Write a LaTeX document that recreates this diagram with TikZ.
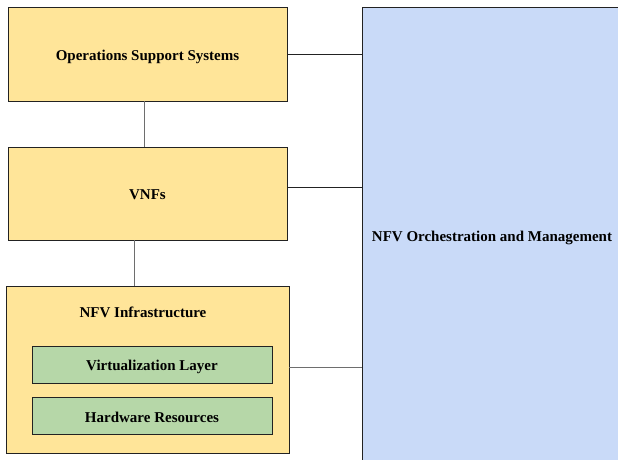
\documentclass[tikz,border=0pt]{standalone}
\usepackage{fontspec}
\setmainfont{Liberation Serif}
\usetikzlibrary{positioning}

\definecolor{boxyellow}{HTML}{FFE599}
\definecolor{boxgreen}{HTML}{B6D7A8}
\definecolor{boxblue}{HTML}{C9DAF8}
\definecolor{edgedark}{HTML}{222222}
\definecolor{linegray}{HTML}{6E6E6E}

\tikzset{
  labelfont/.style={font=\fontsize{15}{18}\selectfont\bfseries, text height=14pt, text depth=2pt},
  layerbox/.style={draw=edgedark, line width=0.9pt, fill=boxyellow, inner sep=0pt, labelfont},
  subbox/.style={draw=edgedark, line width=0.9pt, fill=boxgreen, inner sep=0pt,
    minimum width=240pt, minimum height=37pt, labelfont},
  mgmtbox/.style={draw=edgedark, line width=0.9pt, fill=boxblue, inner sep=0pt, labelfont},
  darklink/.style={draw=edgedark, line width=0.9pt},
  graylink/.style={draw=linegray, line width=1pt}
}

\begin{document}
\begin{tikzpicture}[x=1pt, y=-1pt]
    \useasboundingbox (0,0) rectangle (618,460);
    \clip (0,0) rectangle (618,460);

    % Left column of layers
    \node (oss) at (147.5,54) [layerbox, minimum width=279pt, minimum height=94pt] {Operations Support Systems};
    \node (vnf) at (147.5,193.5) [layerbox, minimum width=279pt, minimum height=93pt] {VNFs};
    \node (nfvi) at (147.5,369.5) [layerbox, minimum width=283pt, minimum height=167pt] {};
    \node (nfvititle) at (143,311.5) [labelfont, inner sep=0pt] {NFV Infrastructure};
    \node (virt) at (152,364.5) [subbox] {Virtualization Layer};
    \node (hw) at (152,416) [subbox] {Hardware Resources};

    % Management block on the right (runs off the page)
    \node (orch) at (492,235) [mgmtbox, minimum width=260pt, minimum height=456pt] {NFV Orchestration and Management};

    % Links
    \draw[graylink] ([xshift=-3.5pt]oss.south) -- ([xshift=-3.5pt]vnf.north);
    \draw[graylink] ([xshift=-13.5pt]vnf.south) -- ([xshift=-13.5pt]nfvi.north);
    \draw[darklink] (oss.east) -- (oss.east -| orch.west);
    \draw[darklink] ([yshift=6.5pt]vnf.east) -- ([yshift=6.5pt]vnf.east -| orch.west);
    \draw[graylink] ([yshift=-2.5pt]nfvi.east |- virt.center) -- ([yshift=-2.5pt]orch.west |- virt.center);
  \end{tikzpicture}
\end{document}
